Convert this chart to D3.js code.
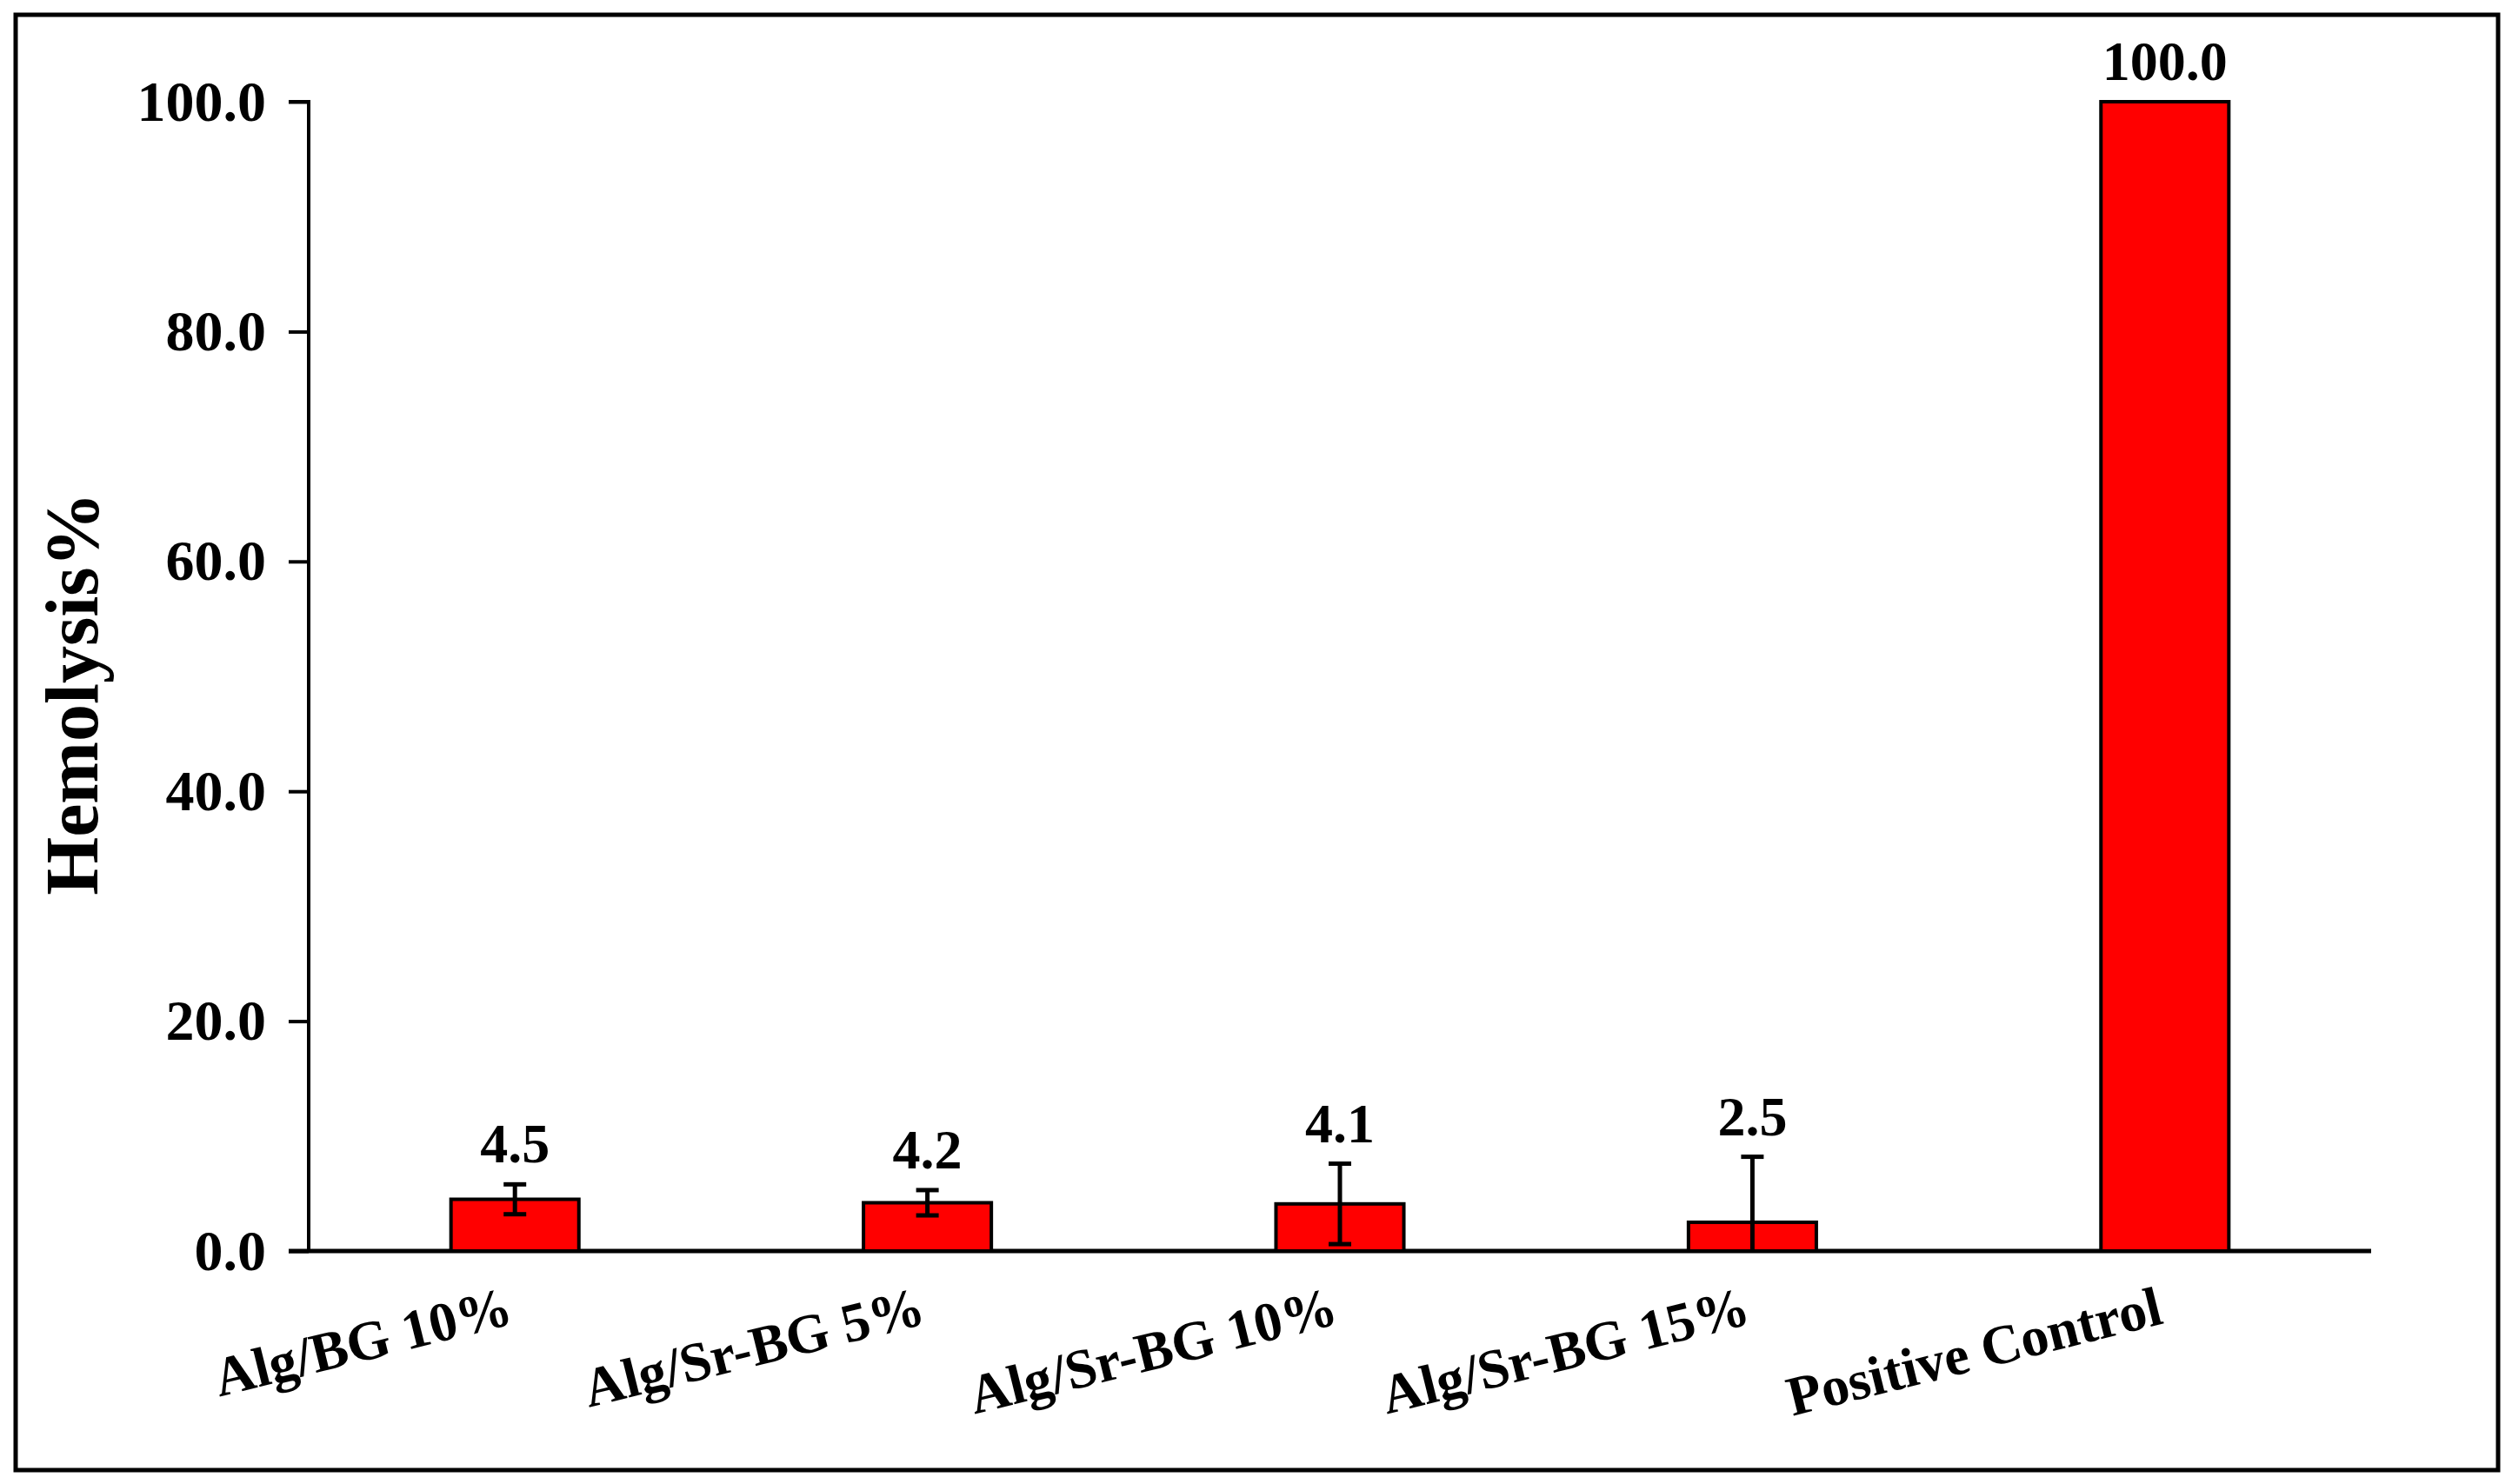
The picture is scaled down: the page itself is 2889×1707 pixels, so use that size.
<!DOCTYPE html>
<html><head><meta charset="utf-8">
<script src="https://cdn.jsdelivr.net/npm/d3@7"></script>
<style>html,body{margin:0;padding:0;background:#fff;}</style>
</head><body>
<script>
const categories = ["Alg/BG 10%", "Alg/Sr-BG 5%", "Alg/Sr-BG 10%", "Alg/Sr-BG 15%", "Positive Control"];
const values = [4.5, 4.2, 4.1, 2.5, 100.0];
const errors = [1.3, 1.1, 3.5, 5.7, 0];
const yTicks = [0, 20, 40, 60, 80, 100];
const yLabel = "Hemolysis%";

const W = 2889, H = 1707;
const svg = d3.select("body").append("svg").attr("width", W).attr("height", H);
const font = "'Liberation Serif','Times New Roman',serif";

svg.append("rect").attr("x", 18).attr("y", 17).attr("width", 2855).attr("height", 1674)
  .attr("fill", "none").attr("stroke", "#000").attr("stroke-width", 5);

const x0 = 355, x1 = 2727, yTop = 117, yBot = 1439;
const x = d3.scaleBand().domain(categories).range([x0, x1]).paddingInner(0.69).paddingOuter(0.345);
const y = d3.scaleLinear().domain([0, 100]).range([yBot, yTop]);

// y axis
const ya = svg.append("g").attr("transform", `translate(${x0},0)`)
  .call(d3.axisLeft(y).tickValues(yTicks).tickFormat(d3.format(".1f")).tickSize(23).tickPadding(26));
ya.select(".domain").attr("stroke", "#000").attr("stroke-width", 4).attr("d", `M-23,${yTop}H0V${yBot}`);
ya.selectAll(".tick line").attr("stroke", "#000").attr("stroke-width", 4);
ya.selectAll(".tick text").attr("font-family", font).attr("font-weight", "bold").attr("font-size", 66).attr("fill", "#000");

// x axis line
svg.append("line").attr("x1", 332).attr("x2", x1).attr("y1", yBot).attr("y2", yBot)
  .attr("stroke", "#000").attr("stroke-width", 5);

// bars
svg.selectAll("rect.bar").data(values).join("rect").attr("class", "bar")
  .attr("x", (d, i) => x(categories[i])).attr("width", x.bandwidth())
  .attr("y", d => y(d)).attr("height", d => yBot - y(d))
  .attr("fill", "#ff0000").attr("stroke", "#000").attr("stroke-width", 4);

// error bars
values.forEach((v, i) => {
  if (!errors[i]) return;
  const cx = x(categories[i]) + x.bandwidth() / 2;
  const hi = v + errors[i], lo = Math.max(0, v - errors[i]);
  const g = svg.append("g").attr("stroke", "#000").attr("stroke-width", 5);
  g.append("line").attr("x1", cx).attr("x2", cx).attr("y1", y(hi)).attr("y2", y(lo));
  g.append("line").attr("x1", cx - 13).attr("x2", cx + 13).attr("y1", y(hi)).attr("y2", y(hi));
  if (lo > 0) g.append("line").attr("x1", cx - 13).attr("x2", cx + 13).attr("y1", y(lo)).attr("y2", y(lo));
});

// value labels
svg.selectAll("text.val").data(values).join("text").attr("class", "val")
  .attr("x", (d, i) => x(categories[i]) + x.bandwidth() / 2)
  .attr("y", (d, i) => y(d + errors[i]) - 25)
  .attr("text-anchor", "middle").attr("font-family", font).attr("font-weight", "bold")
  .attr("font-size", 64).text(d => d3.format(".1f")(d));

// category labels
categories.forEach((c, i) => {
  const cx = x(c) + x.bandwidth() / 2;
  svg.append("text").attr("transform", `translate(${cx},${1522}) rotate(-14)`)
    .attr("text-anchor", "end").attr("font-family", font).attr("font-weight", "bold")
    .attr("font-size", 64).text(c);
});

// y label
svg.append("text").attr("transform", `translate(${112},${798}) rotate(-90)`)
  .attr("text-anchor", "middle").attr("font-family", font).attr("font-weight", "bold")
  .attr("font-size", 86).text(yLabel);
</script>
</body></html>
